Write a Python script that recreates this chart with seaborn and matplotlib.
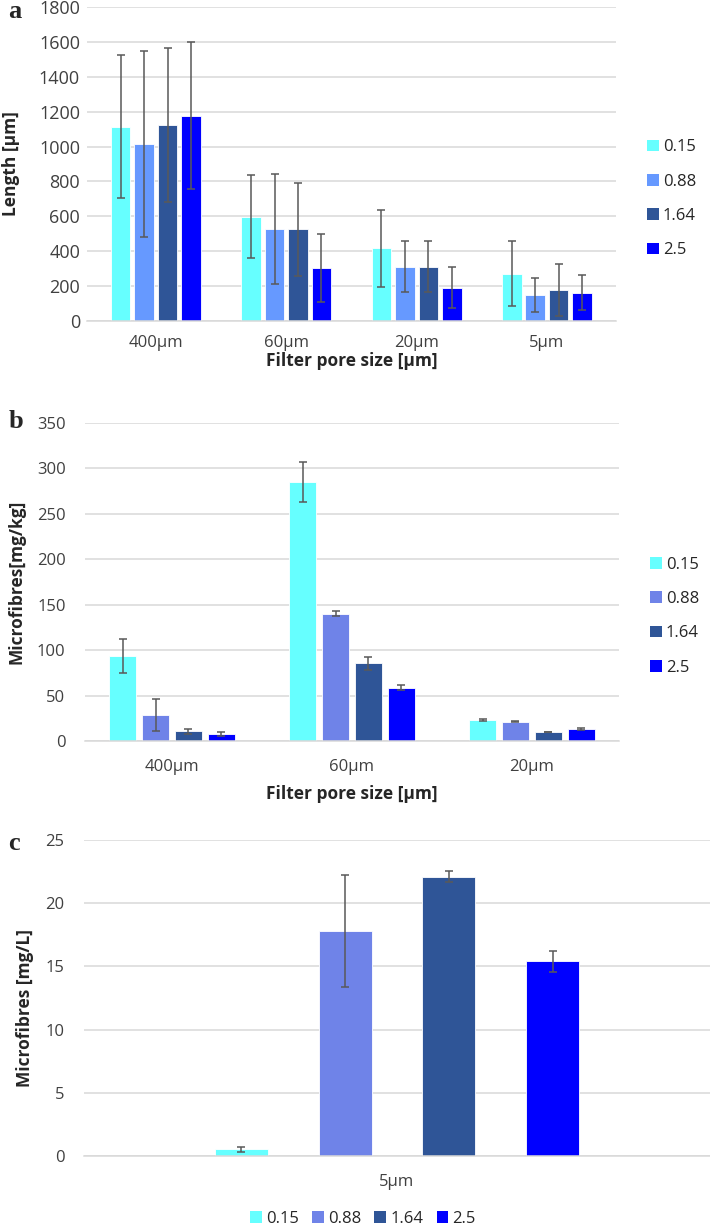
import matplotlib
matplotlib.use("Agg")
import matplotlib.pyplot as plt
from matplotlib.patches import Patch
import pandas as pd
import seaborn as sns

SIZES = ["0.15", "0.88", "1.64", "2.5"]

# panel a: fibre length per filter pore size
PORES_A = ["400µm", "60µm", "20µm", "5µm"]
LEN_015 = [1114, 598, 416, 271]
LEN_088 = [1014, 529, 311, 149]
LEN_164 = [1123, 525, 311, 176]
LEN_250 = [1177, 304, 191, 162]
LEN_ERR_015 = [410, 239, 222, 185]
LEN_ERR_088 = [535, 315, 145, 99]
LEN_ERR_164 = [440, 265, 145, 150]
LEN_ERR_250 = [422, 195, 117, 100]

# panel b: microfibres mg/kg
PORES_B = ["400µm", "60µm", "20µm"]
KG_015 = [93.4, 285, 23.5]
KG_088 = [28.3, 140, 21.0]
KG_164 = [10.7, 85.3, 9.9]
KG_250 = [7.4, 58.8, 13.2]
KG_ERR_015 = [19, 22, 1.0]
KG_ERR_088 = [17.5, 3.0, 0.6]
KG_ERR_164 = [2.5, 6.8, 0.3]
KG_ERR_250 = [2.4, 2.6, 0.6]

# panel c: microfibres mg/L, 5 µm only
PORES_C = ["5µm"]
L_VALUES = [0.53, 17.8, 22.1, 15.4]
L_ERR = [0.18, 4.45, 0.45, 0.85]

COLORS_A = ["#66FFFF", "#6699FF", "#2F5597", "#0000FF"]
COLORS_BC = ["#66FFFF", "#6F83E8", "#2F5597", "#0000FF"]
GRID = "#D9D9D9"
ERR_COLOR = "#595959"


def long_frame(pores, series, errors):
    rows = []
    for size, vals, errs in zip(SIZES, series, errors):
        for pore, v, e in zip(pores, vals, errs):
            rows.append({"pore": pore, "size": size, "value": v, "err": e})
    return pd.DataFrame(rows)


def draw_panel(ax, df, pores, colors, width, gap, ymax, ystep):
    sns.barplot(
        data=df, x="pore", y="value", hue="size",
        order=pores, hue_order=SIZES, palette=colors, saturation=1,
        width=width, gap=gap, errorbar=None, legend=False,
        edgecolor="white", linewidth=0.6, ax=ax, zorder=2,
    )
    for container, size in zip(ax.containers, SIZES):
        sub = df[df["size"] == size].set_index("pore").reindex(pores)
        xs = [p.get_x() + p.get_width() / 2 for p in container]
        ax.errorbar(
            xs, sub["value"], yerr=sub["err"], fmt="none",
            ecolor=ERR_COLOR, elinewidth=1.1, capsize=3, capthick=1.1, zorder=3,
        )
    ax.set_ylim(0, ymax)
    ax.set_yticks(range(0, ymax + 1, ystep))
    ax.grid(axis="y", color=GRID, lw=1.1, zorder=0)
    ax.set_axisbelow(True)
    for s in ["top", "right", "left"]:
        ax.spines[s].set_visible(False)
    ax.spines["bottom"].set_color(GRID)
    ax.spines["bottom"].set_linewidth(1.1)
    ax.tick_params(axis="both", length=0, labelsize=12, colors="#404040")


def handles(colors):
    return [Patch(facecolor=c, edgecolor="none", label=s) for c, s in zip(colors, SIZES)]


def main():
    sns.set_style("white")
    plt.rcParams["font.family"] = ["Open Sans", "DejaVu Sans"]

    fig = plt.figure(figsize=(7.1, 12.28), dpi=100)
    ax_a = fig.add_axes([0.1225, 0.7386, 0.745, 0.2557])
    ax_b = fig.add_axes([0.1197, 0.3966, 0.752, 0.259])
    ax_c = fig.add_axes([0.1183, 0.0586, 0.8817, 0.2573])

    df_a = long_frame(
        PORES_A, [LEN_015, LEN_088, LEN_164, LEN_250],
        [LEN_ERR_015, LEN_ERR_088, LEN_ERR_164, LEN_ERR_250],
    )
    draw_panel(ax_a, df_a, PORES_A, COLORS_A, 0.72, 0.17, 1800, 200)
    ax_a.tick_params(axis="y", pad=5, labelsize=13)
    ax_a.tick_params(axis="x", pad=10)
    ax_a.set_ylabel("Length [µm]", fontsize=12.5, fontweight="bold")
    ax_a.yaxis.set_label_coords(-0.127, 0.5)
    ax_a.set_xlabel("Filter pore size [µm]", fontsize=12.5, fontweight="bold", labelpad=1)
    ax_a.legend(
        handles=handles(COLORS_A), loc="center left", bbox_to_anchor=(1.059, 0.389),
        frameon=False, fontsize=12, handlelength=0.7, handleheight=0.7,
        handletextpad=0.25, labelspacing=1.1, borderpad=0, borderaxespad=0,
    )

    df_b = long_frame(
        PORES_B, [KG_015, KG_088, KG_164, KG_250],
        [KG_ERR_015, KG_ERR_088, KG_ERR_164, KG_ERR_250],
    )
    draw_panel(ax_b, df_b, PORES_B, COLORS_BC, 0.73, 0.18, 350, 50)
    ax_b.tick_params(axis="y", pad=14)
    ax_b.tick_params(axis="x", pad=13)
    ax_b.set_ylabel("Microfibres[mg/kg]", fontsize=12.5, fontweight="bold")
    ax_b.yaxis.set_label_coords(-0.112, 0.5)
    ax_b.set_xlabel("Filter pore size [µm]", fontsize=12.5, fontweight="bold", labelpad=7)
    ax_b.legend(
        handles=handles(COLORS_BC), loc="center left", bbox_to_anchor=(1.058, 0.392),
        frameon=False, fontsize=12, handlelength=0.7, handleheight=0.7,
        handletextpad=0.25, labelspacing=1.1, borderpad=0, borderaxespad=0,
    )

    df_c = long_frame(PORES_C, [[v] for v in L_VALUES], [[e] for e in L_ERR])
    draw_panel(ax_c, df_c, PORES_C, COLORS_BC, 0.664, 0.49, 25, 5)
    ax_c.set_xlim(-0.5, 0.5)
    ax_c.tick_params(axis="y", pad=14)
    ax_c.tick_params(axis="x", pad=13)
    ax_c.set_ylabel("Microfibres [mg/L]", fontsize=12.5, fontweight="bold")
    ax_c.yaxis.set_label_coords(-0.080, 0.47)
    ax_c.set_xlabel("")
    fig.legend(
        handles=handles(COLORS_BC), loc="center", bbox_to_anchor=(0.511, 0.0075),
        ncol=4, frameon=False, fontsize=12, handlelength=0.7, handleheight=0.7,
        handletextpad=0.25, columnspacing=0.8, borderpad=0,
    )

    for label, y in [("a", 12), ("b", 421), ("c", 843)]:
        fig.text(0.012, 1 - y / 1228, label, family="Liberation Serif",
                 fontweight="bold", fontsize=19, va="center", ha="left")

    fig.savefig("out.png", dpi=100)
    plt.close(fig)


if __name__ == "__main__":
    main()
